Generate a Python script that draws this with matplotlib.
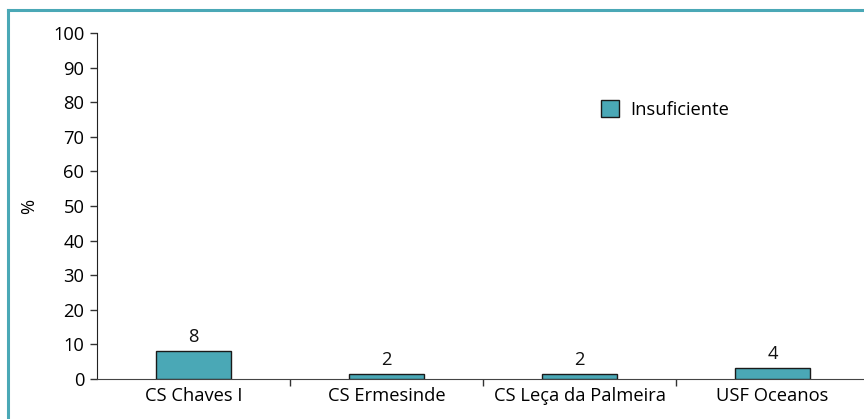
import matplotlib
matplotlib.use("Agg")
import matplotlib.pyplot as plt
from matplotlib.lines import Line2D

categories = ["CS Chaves I", "CS Ermesinde", "CS Leça da Palmeira", "USF Oceanos"]
values = [8.2, 1.5, 1.35, 3.2]
value_labels = ["8", "2", "2", "4"]
series_name = "Insuficiente"
yticks = [0, 10, 20, 30, 40, 50, 60, 70, 80, 90, 100]

teal = "#4AA8B6"
plt.rcParams['font.family'] = ['Open Sans', 'DejaVu Sans']
fs = 13.2

W, H = 864, 419
fig = plt.figure(figsize=(W / 100, H / 100), dpi=100)
ax = fig.add_axes([97 / W, (H - 379) / H, (869 - 97) / W, (379 - 33) / H])

x = list(range(len(categories)))
bars = ax.bar(x, values, width=0.385, color=teal, edgecolor="#1a1a1a", linewidth=1.0,
              label=series_name, zorder=3)
for xi, v, lab in zip(x, values, value_labels):
    ax.annotate(lab, (xi, v), xytext=(0, 3.5), textcoords="offset points",
                ha="center", va="bottom", fontsize=fs, color="#111111")

ax.set_xlim(-0.5, 3.5)
ax.set_ylim(0, 100)
ax.set_yticks(yticks)
ax.set_yticklabels([str(t) for t in yticks], fontsize=fs)
ax.set_xticks(x)
ax.set_xticklabels(categories, fontsize=fs)
ax.set_xticks([0.5, 1.5, 2.5], minor=True)
ax.tick_params(axis="x", which="major", length=0, pad=6)
ax.tick_params(axis="x", which="minor", length=5, width=1, color="#333333", direction="out")
ax.tick_params(axis="y", length=5, width=1, color="#333333", pad=4)

for s in ["top", "right"]:
    ax.spines[s].set_visible(False)
ax.spines["left"].set_color("#222222")
ax.spines["bottom"].set_color("#444444")
ax.set_ylabel("%", fontsize=fs, labelpad=11)

leg = ax.legend(loc="upper left", bbox_to_anchor=((594 - 97) / (869 - 97), 1 - (93 - 33) / (379 - 33)),
                frameon=False, fontsize=fs, handlelength=0.95, handleheight=1.0,
                handletextpad=0.65, borderaxespad=0)

# teal frame (top and left visible)
fig.add_artist(Line2D([8 / W, 8 / W], [0, 1 - 10.5 / H], transform=fig.transFigure,
                      color=teal, linewidth=2.2))
fig.add_artist(Line2D([8 / W, 1], [1 - 10.5 / H, 1 - 10.5 / H], transform=fig.transFigure,
                      color=teal, linewidth=2.2))

fig.savefig("out.png", dpi=100)
